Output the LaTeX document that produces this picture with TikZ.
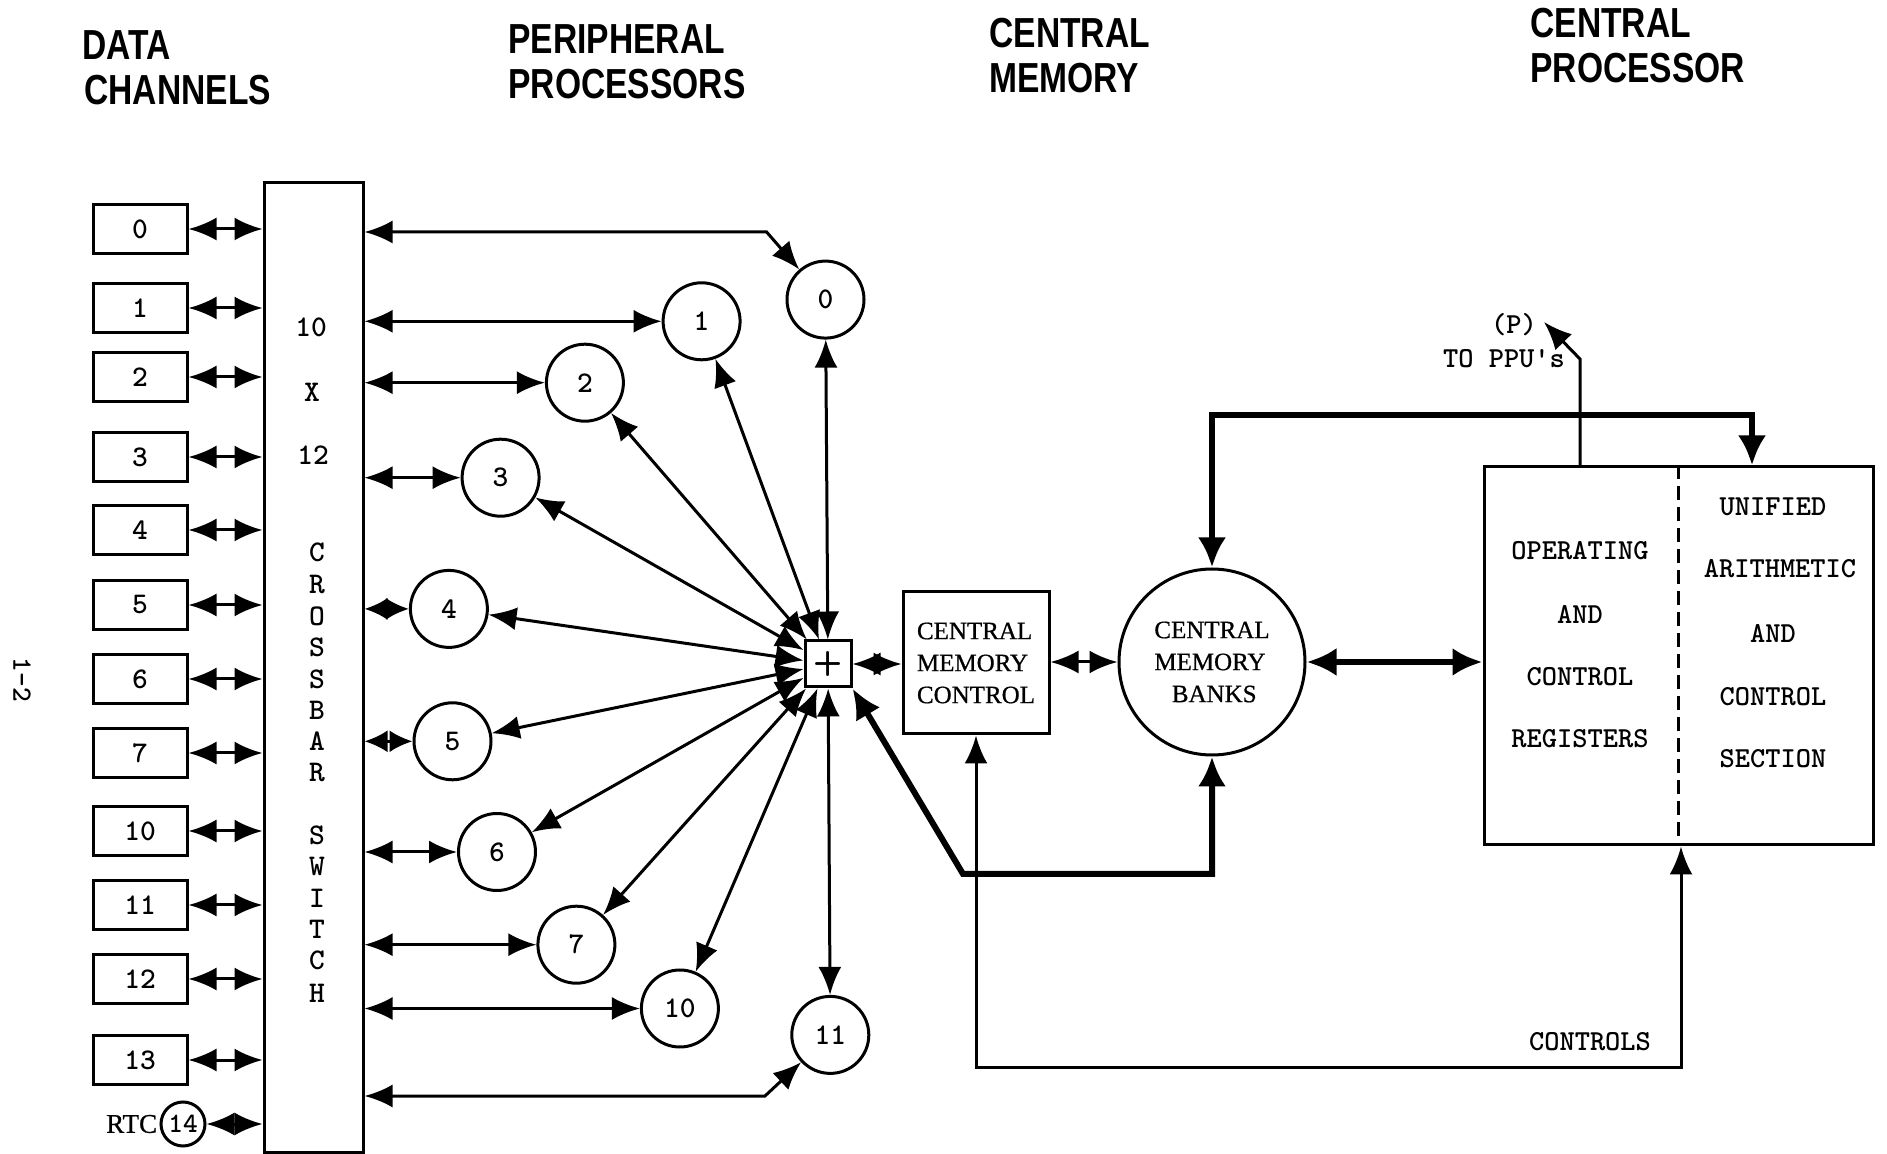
\documentclass[tikz,border=0pt]{standalone}
\usepackage{fontspec}
\usetikzlibrary{arrows.meta}
\newfontfamily\hdrfont[FakeStretch=0.8]{Liberation Sans}
\newfontfamily\serf[FakeBold=0.7]{Liberation Serif}
\begin{document}
\begin{tikzpicture}[x=0.5pt,y=-0.5pt,
  ln/.style={line width=1.5pt},
  >={Latex[length=14pt,width=11.5pt]},
  dbl/.style={ln,<->},
  shortdbl/.style={ln,{Latex[length=11.5pt,width=11pt]}-{Latex[length=11.5pt,width=11pt]}},
  thk/.style={line width=3pt,>={Latex[length=15pt,width=14pt]}},
  hdr/.style={anchor=west,inner sep=0pt,font=\hdrfont\bfseries\fontsize{21}{21}\selectfont},
  dbox/.style={draw,ln,minimum width=47pt,minimum height=24.5pt,inner sep=0pt,font=\ttfamily\bfseries\fontsize{15}{15}\selectfont},
  ppc/.style={circle,draw,ln,minimum size=38.5pt,inner sep=0pt,font=\ttfamily\bfseries\fontsize{15}{15}\selectfont},
  xtxt/.style={inner sep=0pt,font=\ttfamily\bfseries\fontsize{15}{15}\selectfont},
  memtxt/.style={align=left,font=\serf\fontsize{12.5}{16}\selectfont},
  cptxt/.style={inner sep=0pt,font=\ttfamily\bfseries\fontsize{14.5}{14.5}\selectfont}
]
\useasboundingbox (0,0) rectangle (1887,1154);

% headers
\node[hdr] (h1a) at (82,45) {DATA};
\node[hdr] (h1b) at (84,90) {CHANNELS};
\node[hdr] (h2a) at (508,39) {PERIPHERAL};
\node[hdr] (h2b) at (508,84) {PROCESSORS};
\node[hdr] (h3a) at (989,33) {CENTRAL};
\node[hdr] (h3b) at (989,78) {MEMORY};
\node[hdr] (h4a) at (1530,23) {CENTRAL};
\node[hdr] (h4b) at (1530,68) {PROCESSOR};

% page number
\node[rotate=-90,inner sep=0pt,font=\ttfamily\bfseries\fontsize{14}{14}\selectfont] (pg) at (22,680) {1-2};

% crossbar
\node[draw,ln,minimum width=49.5pt,minimum height=484.5pt,inner sep=0pt] (xbar) at (313.5,667.5) {};
\node[xtxt] (x10) at (311,327) {10};
\node[xtxt] (xx) at (312,392) {X};
\node[xtxt] (x12) at (313,455) {12};
\foreach \c/\yy [count=\i] in {C/552,R/585,O/616,S/647,S/679,B/710,A/741,R/773,S/835,W/866,I/898,T/929,C/960,H/993}
  \node[xtxt] (xl\i) at (317,\yy) {\c};

% data channels
\foreach \n/\yy in {0/229,1/308,2/377,3/457,4/530,5/605,6/679,7/753,10/831,11/905,12/979,13/1060}{
  \node[dbox] (d\n) at (140,\yy) {\n};
  \draw[dbl] (d\n.east) -- (d\n.east -| xbar.west);
}
\node[circle,draw,ln,minimum size=22pt,inner sep=0pt,font=\ttfamily\bfseries\fontsize{14}{14}\selectfont] (rtc) at (183,1124) {14};
\node[anchor=east,inner sep=1pt,font=\serf\fontsize{13.5}{14}\selectfont] (rtct) at (rtc.west) {RTC};
\draw[dbl] (rtc.east) -- (rtc.east -| xbar.west);

% plus box
\node[draw,ln,minimum size=23pt,inner sep=0pt,font=\sffamily\bfseries\fontsize{17}{17}\selectfont] (plus) at (828,664) {+};

% peripheral processors
\node[ppc] (pp0) at (825.5,299.6) {0};
\node[ppc] (pp1) at (701.6,321.3) {1};
\node[ppc] (pp2) at (584.9,382.7) {2};
\node[ppc] (pp3) at (500.6,477.7) {3};
\node[ppc] (pp4) at (448.9,608.9) {4};
\node[ppc] (pp5) at (452.5,741.3) {5};
\node[ppc] (pp6) at (497.0,852.0) {6};
\node[ppc] (pp7) at (576.4,944.7) {7};
\node[ppc] (pp10) at (679.9,1008.5) {10};
\node[ppc] (pp11) at (830.3,1034.9) {11};

\coordinate (b0) at (766.6,232);
\coordinate (b11) at (765,1096);
\draw[dbl] (xbar.east |- b0) -- (b0) -- (pp0);
\draw[dbl] (xbar.east |- b11) -- (b11) -- (pp11);
\foreach \n in {1,2,3,6,7,10}
  \draw[dbl] (pp\n.west -| xbar.east) -- (pp\n.west);
\foreach \n in {4,5}
  \draw[shortdbl] (pp\n.west -| xbar.east) -- (pp\n.west);
\foreach \n in {0,1,2,3,4,5,6,7,10,11}
  \draw[dbl] (plus) -- (pp\n);

% central memory
\node[draw,ln,minimum width=73pt,minimum height=71pt,memtxt] (cmc) at (976,663) {CENTRAL\\MEMORY\\CONTROL};
\node[circle,draw,ln,minimum size=93pt,inner sep=0pt,memtxt] (cmb) at (1212,662) {CENTRAL\\MEMORY\\\hspace*{0.7em}BANKS};
\draw[dbl] (plus.east) -- (plus.east -| cmc.west);
\draw[dbl] (cmc.east |- cmb.west) -- (cmb.west);

% central processor
\node[draw,ln,minimum width=194.5pt,minimum height=189pt,inner sep=0pt] (cp) at (1678.5,656) {};
\draw[line width=1.6pt,dash pattern=on 7pt off 3.5pt] (cp.north) -- (cp.south);
\node[cptxt] (u1) at (1773,507) {UNIFIED};
\node[cptxt] (u2) at (1780,569) {ARITHMETIC};
\node[cptxt] (u3) at (1773,633) {AND};
\node[cptxt] (u4) at (1773,697) {CONTROL};
\node[cptxt] (u5) at (1773,759) {SECTION};
\node[cptxt] (o1) at (1580,551) {OPERATING};
\node[cptxt] (o2) at (1580,614) {AND};
\node[cptxt] (o3) at (1580,677) {CONTROL};
\node[cptxt] (o4) at (1580,739) {REGISTERS};

% thick connections
\draw[thk,<->] (cmb.east) -- (cmb.east -| cp.west);
\coordinate (t1) at (1212,415);
\coordinate (t2) at (1752,415);
\draw[thk,<->] (cmb.north) -- (t1) -- (t2) -- (t2 |- cp.north);
\coordinate (c1) at (963,874);
\coordinate (c2) at (1212,874);
\draw[thk,<->] (plus.south east) -- (c1) -- (c2) -- (cmb.south);

% controls
\coordinate (k1) at (976,1067);
\coordinate (k2) at (1681,1067);
\draw[dbl] (cmc.south) -- (k1) -- (k2) -- (k2 |- cp.south);
\node[cptxt] (ctl) at (1590,1042) {CONTROLS};

% to PPUs
\coordinate (p1) at (1580,359);
\coordinate (ppu) at (1544,322);
\draw[ln,->] (p1 |- cp.north) -- (p1) -- (ppu);
\node[cptxt] (pl) at (1514,325) {(P)};
\node[cptxt] (tp) at (1504,359) {TO PPU's};
\end{tikzpicture}
\end{document}
